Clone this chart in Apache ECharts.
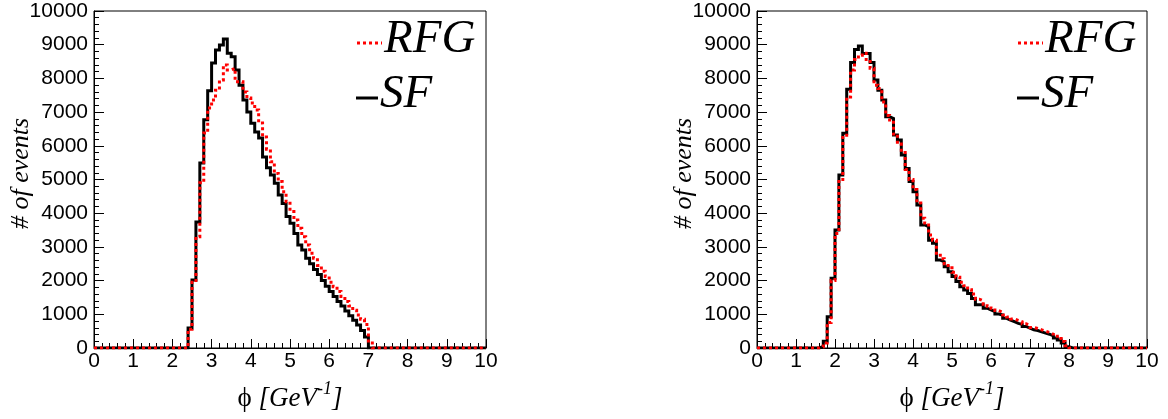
<!DOCTYPE html>
<html>
<head>
<meta charset="utf-8">
<script src="https://cdn.jsdelivr.net/npm/echarts@6/dist/echarts.min.js"></script>
<style>
html,body{margin:0;padding:0;background:#fff;}
#c{width:1168px;height:419px;}
</style>
</head>
<body>
<div id="c"></div>
<script>
// Histogram bins: 100 bins of width 0.1 on [0, 10]
const binWidth = 0.1;
const xMin = 0, xMax = 10;

// Left panel
const leftSF = [
  0,0,0,0,0,0,0,0,0,0,
  0,0,0,0,0,0,0,0,0,0,
  0,0,0,0,590,2020,3740,5490,6770,7630,
  8460,8840,8990,9170,8750,8640,8250,7800,7360,7000,
  6670,6410,6230,5670,5350,5130,4890,4540,4290,3900,
  3700,3400,3060,2910,2660,2500,2330,2180,2000,1830,
  1680,1530,1380,1250,1100,960,820,680,520,330,
  0,0,0,0,0,0,0,0,0,0,
  0,0,0,0,0,0,0,0,0,0,
  0,0,0,0,0,0,0,0,0,0
];
const leftRFG = [
  0,0,0,0,0,0,0,0,0,0,
  0,0,0,0,0,0,0,0,0,0,
  0,0,0,0,560,1950,3300,4900,6380,7120,
  7360,7650,7950,8400,8250,8300,7900,7900,7600,7420,
  7270,7060,6680,6260,5900,5530,5180,4940,4640,4340,
  4050,3800,3550,3300,3060,2810,2660,2450,2280,2120,
  1950,1820,1680,1530,1380,1250,1120,980,850,700,
  150,0,0,0,0,0,0,0,0,0,
  0,0,0,0,0,0,0,0,0,0,
  0,0,0,0,0,0,0,0,0,0
];
// Right panel
const rightSF = [
  0,0,0,0,0,0,0,0,0,0,
  0,0,0,0,0,0,50,200,930,2070,
  3500,5130,6370,7680,8470,8860,8960,8740,8740,8470,
  7950,7650,7360,6860,6810,6320,6170,5730,5330,4940,
  4640,4240,3650,3600,3200,3110,2610,2560,2410,2260,
  2120,1970,1820,1720,1620,1470,1280,1280,1180,1130,
  1080,1010,980,880,830,780,730,700,640,590,
  540,520,480,440,410,360,300,240,150,40,
  0,0,0,0,0,0,0,0,0,0,
  0,0,0,0,0,0,0,0,0,0
];
const rightRFG = [
  0,0,0,0,0,0,0,0,0,0,
  0,0,0,0,0,0,30,150,760,2000,
  3400,5000,6250,7450,8250,8560,8690,8750,8560,8300,
  7800,7700,7300,6900,6700,6350,6050,5800,5300,5000,
  4700,4300,3850,3650,3350,3200,2750,2650,2500,2380,
  2250,2100,1950,1850,1730,1600,1450,1400,1300,1240,
  1180,1110,1060,980,920,860,820,780,720,670,
  610,580,540,500,460,410,350,280,190,70,
  0,0,0,0,0,0,0,0,0,0,
  0,0,0,0,0,0,0,0,0,0
];

const legendNames = ['RFG', 'SF'];
const yTitle = '# of events';

function stepData(vals) {
  const d = vals.map((v, i) => [+(xMin + i * binWidth).toFixed(2), v]);
  d.push([xMax, vals[vals.length - 1]]);
  return d;
}

const serif = "'Liberation Serif', 'Times New Roman', serif";
const sans = "'Liberation Sans', Arial, Helvetica, sans-serif";

const grids = [
  {left: 94, right: 682, top: 11, bottom: 71},
  {left: 757, right: 21, top: 11, bottom: 71}
];

function xAxisCfg(gi) {
  return {
    gridIndex: gi, type: 'value', min: xMin, max: xMax, interval: 1,
    axisLine: {show: true, onZero: false, lineStyle: {color: '#000', width: 1}},
    axisTick: {show: true, inside: true, length: 9, lineStyle: {color: '#000', width: 1}},
    minorTick: {show: true, splitNumber: 5, length: 5, lineStyle: {color: '#000', width: 1}},
    splitLine: {show: false},
    axisLabel: {color: '#000', fontSize: 21, fontFamily: sans, margin: 3,
      showMinLabel: true, showMaxLabel: true, formatter: v => String(v)},
    name: '{phi|\u03D5} {it|[GeV}{sup|-1}{it|]}',
    nameLocation: 'middle', nameGap: 32, nameMoveOverlap: false,
    nameTextStyle: {
      color: '#000', fontFamily: serif, fontSize: 27,
      rich: {
        phi: {fontFamily: serif, fontSize: 27, color: '#000', verticalAlign: 'bottom', lineHeight: 32},
        it: {fontFamily: serif, fontStyle: 'italic', fontSize: 27, color: '#000', verticalAlign: 'bottom', lineHeight: 32},
        sup: {fontFamily: serif, fontStyle: 'italic', fontSize: 18, color: '#000', verticalAlign: 'top', lineHeight: 32}
      }
    }
  };
}
function yAxisCfg(gi) {
  return {
    gridIndex: gi, type: 'value', min: 0, max: 10000, interval: 1000,
    axisLine: {show: true, lineStyle: {color: '#000', width: 1}},
    axisTick: {show: true, inside: true, length: 10, lineStyle: {color: '#000', width: 1}},
    minorTick: {show: true, splitNumber: 5, length: 5, lineStyle: {color: '#000', width: 1}},
    splitLine: {show: false},
    axisLabel: {color: '#000', fontSize: 21, fontFamily: sans, margin: 6,
      showMinLabel: true, showMaxLabel: true, formatter: v => String(v)},
    name: yTitle, nameLocation: 'middle', nameGap: 60, nameRotate: 90, nameMoveOverlap: false,
    nameTextStyle: {color: '#000', fontFamily: serif, fontStyle: 'italic', fontSize: 26, padding: [0, 0, 0, 12]}
  };
}

function histSeries(gi, vals, color, dashed) {
  return {
    type: 'line', xAxisIndex: gi, yAxisIndex: gi, step: 'end',
    data: stepData(vals), showSymbol: false, symbol: 'none',
    lineStyle: {color: color, width: 3, type: dashed ? [3, 3] : 'solid', cap: 'butt', join: 'miter'},
    z: dashed ? 3 : 2, silent: true, animation: false
  };
}

function legendGraphics(plotRight) {
  const dx = plotRight - 486;
  return [
    {type: 'line', shape: {x1: 357 + dx, y1: 43, x2: 382 + dx, y2: 43},
     style: {stroke: '#ff0000', lineWidth: 3, lineDash: [3, 3]}},
    {type: 'text', x: 384 + dx, y: 40,
     style: {text: legendNames[0], fill: '#000', font: 'italic 47px ' + serif, textVerticalAlign: 'middle'}},
    {type: 'line', shape: {x1: 356 + dx, y1: 98, x2: 378 + dx, y2: 98},
     style: {stroke: '#000', lineWidth: 3}},
    {type: 'text', x: 380 + dx, y: 95,
     style: {text: legendNames[1], fill: '#000', font: 'italic 47px ' + serif, textVerticalAlign: 'middle'}}
  ];
}

const chart = echarts.init(document.getElementById('c'), null, {renderer: 'canvas'});
chart.setOption({
  animation: false,
  backgroundColor: '#fff',
  grid: grids.map(g => Object.assign({show: true, borderColor: '#000', borderWidth: 1,
    backgroundColor: 'transparent', containLabel: false, outerBoundsMode: 'none'}, g)),
  xAxis: [xAxisCfg(0), xAxisCfg(1)],
  yAxis: [yAxisCfg(0), yAxisCfg(1)],
  series: [
    histSeries(0, leftSF, '#000', false),
    histSeries(0, leftRFG, '#ff0000', true),
    histSeries(1, rightSF, '#000', false),
    histSeries(1, rightRFG, '#ff0000', true)
  ],
  graphic: legendGraphics(486).concat(legendGraphics(1147))
});
</script>
</body>
</html>
